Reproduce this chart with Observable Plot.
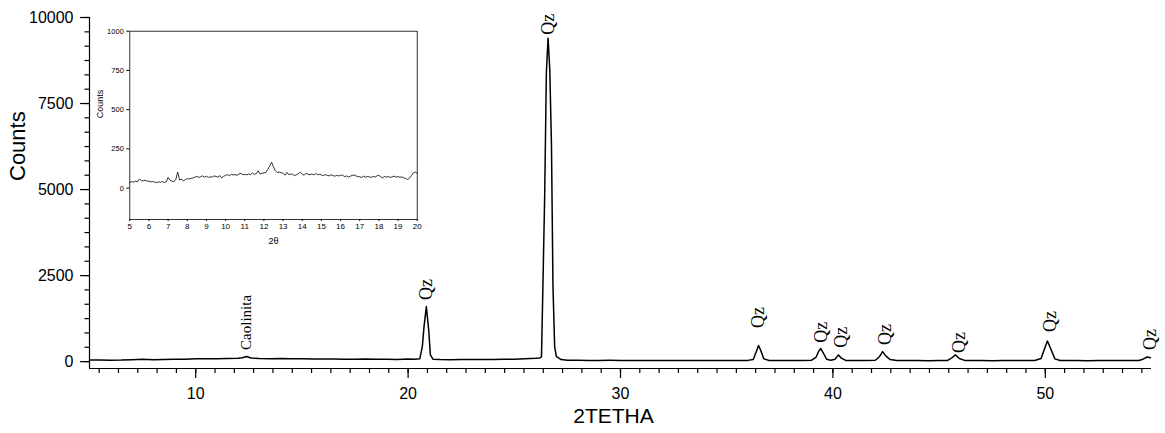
<!DOCTYPE html>
<html><head><meta charset="utf-8">
<script src="https://cdn.jsdelivr.net/npm/d3@7"></script>
<script src="https://cdn.jsdelivr.net/npm/@observablehq/plot@0.6"></script>
<style>
body{margin:0;background:#fff;}
#wrap{position:relative;width:1165px;height:433px;overflow:hidden;background:#fff;}
#main{position:absolute;left:0;top:0;}
#inset{position:absolute;left:90px;top:20px;}
</style></head><body><div id="wrap"><div id="main"></div><div id="inset"></div></div>
<script>
// ---- main diffractogram (2θ, counts) ----
const twoTheta = [5.0,5.5,6.0,6.5,7.0,7.5,8.0,8.5,9.0,9.5,10.0,10.5,11.0,11.5,12.0,12.2,12.4,12.6,13.0,13.5,14.0,14.5,15.0,15.5,16.0,16.5,17.0,17.5,18.0,18.5,19.0,19.5,20.0,20.3,20.55,20.67,20.75,20.86,20.97,21.05,21.17,21.5,22.0,22.5,23.0,23.5,24.0,24.5,25.0,25.5,26.0,26.2,26.28,26.35,26.43,26.51,26.59,26.67,26.75,26.82,26.9,26.98,27.2,27.5,28.0,28.5,29.0,29.5,30.0,30.5,31.0,31.5,32.0,32.5,33.0,33.5,34.0,34.5,35.0,35.5,36.0,36.25,36.4,36.5,36.6,36.75,37.0,37.5,38.0,38.5,39.0,39.2,39.33,39.43,39.55,39.7,39.9,40.1,40.26,40.4,40.6,41.0,41.5,42.0,42.2,42.34,42.5,42.7,43.0,43.5,44.0,44.5,45.0,45.4,45.6,45.77,45.95,46.2,46.5,47.0,47.5,48.0,48.5,49.0,49.5,49.8,49.95,50.1,50.25,50.45,50.7,51.0,51.5,52.0,52.5,53.0,53.5,54.0,54.4,54.6,54.8,54.95];
const counts = [45,50,42,45,55,70,55,65,70,72,80,82,85,88,95,115,150,105,92,85,88,84,80,78,76,74,72,70,74,70,68,62,75,70,80,436,1016,1600,920,195,70,60,55,60,58,62,65,70,68,80,95,105,140,2300,4800,8400,9400,8500,6300,2200,430,150,60,40,38,36,35,38,35,34,36,33,35,32,34,33,35,32,34,33,36,60,300,470,330,80,35,33,34,32,40,120,300,380,250,70,40,70,195,100,35,32,34,40,150,290,160,60,32,30,35,28,32,35,110,195,90,35,30,33,28,32,30,34,32,90,350,600,380,80,35,30,32,28,33,30,34,31,35,70,135,110];

// ---- peak annotations ----
const peakNames = ["Caolinita","Qz","Qz","Qz","Qz","Qz","Qz","Qz","Qz","Qz"];
const peakTheta = [12.4,20.86,26.62,36.5,39.45,40.4,42.45,45.95,50.25,54.95];
const peakLabelCounts = [340,1790,9500,980,545,400,485,250,860,340];

// ---- axis ticks ----
const xMajorTicks = [10,20,30,40,50];
const yMajorTicks = [0,2500,5000,7500,10000];

// ---- inset (5–20° 2θ, 0.1° step) ----
const insetCounts = [
 36,42,38,45,40,58,48,46,50,44,
 45,40,42,38,35,40,37,42,36,40,
 68,50,45,40,55,102,52,58,45,55,
 60,58,62,65,70,75,68,72,78,70,
 75,68,72,70,78,74,70,80,65,75,
 82,85,80,88,84,86,82,90,95,85,
 88,84,90,86,96,88,92,110,90,95,
 98,100,118,140,165,135,110,100,102,98,
 95,82,100,85,90,88,80,85,92,102,
 90,82,95,88,85,90,84,92,86,88,
 84,80,86,82,78,85,80,76,82,78,
 80,85,72,78,70,76,80,84,78,74,
 72,68,76,70,74,72,68,75,70,78,
 82,72,66,75,70,74,68,72,76,70,
 74,68,72,65,62,55,64,80,98,102,
 95];
const insetXTicks = [5,6,7,8,9,10,11,12,13,14,15,16,17,18,19,20];
const insetYTicks = [0,250,500,750,1000];

const xDomain = [5,55], yDomain = [-200,10000];
const mainData = twoTheta.map((t,i)=>({t, c:counts[i]}));
const labels = peakNames.map((n,i)=>({n, t:peakTheta[i], c:peakLabelCounts[i]}));
const xMinorTicks = d3.range(-5,50).map(k => 10 + k*10/11);
const yMinorTicks = d3.range(0,25).map(k => k*2500/6);

const sans = "'Liberation Sans', Arial, sans-serif";
const serif = "'Liberation Serif', 'Times New Roman', serif";

const main = Plot.plot({
  width:1165, height:433,
  marginLeft:89, marginRight:14, marginTop:17, marginBottom:65,
  style:{fontFamily:sans, color:"#000", background:"#fff"},
  x:{domain:xDomain}, y:{domain:yDomain},
  marks:[
    Plot.axisY({ticks:yMinorTicks, tickSize:4.5, tickFormat:()=>"", label:null, strokeWidth:1.2}),
    Plot.axisY({ticks:yMajorTicks, tickSize:9, tickPadding:7, fontSize:16, tickFormat:d3.format("d"), label:null, strokeWidth:1.2}),
    Plot.axisX({ticks:xMinorTicks, tickSize:5, tickFormat:()=>"", label:null, strokeWidth:1.2}),
    Plot.axisX({ticks:xMajorTicks, tickSize:10, tickPadding:9, fontSize:16, label:null, strokeWidth:1.2}),
    Plot.ruleX([xDomain[0]], {stroke:"#000", strokeWidth:1.2}),
    Plot.ruleY([yDomain[0]], {stroke:"#000", strokeWidth:1.2}),
    Plot.line(mainData, {x:"t", y:"c", stroke:"#000", strokeWidth:1.5}),
    Plot.text(labels, {x:"t", y:"c", text:"n", rotate:-90, textAnchor:"start", fontFamily:serif,
      fontSize:d => d.n === "Qz" ? 18 : 15, fill:"#000"}),
    Plot.text(["Counts"], {frameAnchor:"left", dx:-72, dy:-12, rotate:-90, fontSize:22, fill:"#000"}),
    Plot.text(["2TETHA"], {frameAnchor:"bottom", dx:-7, dy:54, fontSize:21, fill:"#000"})
  ]
});
document.getElementById("main").appendChild(main);

const insetData = insetCounts.map((c,i)=>({t: 5 + i*0.1, c}));
const inset = Plot.plot({
  width:340, height:240,
  marginLeft:39.3, marginTop:10.7, marginRight:13.3, marginBottom:41,
  style:{fontFamily:sans, color:"#000", background:"transparent"},
  x:{domain:[5,20]}, y:{domain:[-200,1000]},
  marks:[
    Plot.frame({stroke:"#000", strokeWidth:0.8}),
    Plot.axisX({ticks:insetXTicks, tickSize:2, tickPadding:2, fontSize:8, label:null}),
    Plot.axisY({ticks:insetYTicks, tickSize:3, tickPadding:3, fontSize:7.5, tickFormat:d3.format("d"), label:null}),
    Plot.line(insetData, {x:"t", y:"c", stroke:"#000", strokeWidth:0.8}),
    Plot.text(["2θ"], {frameAnchor:"bottom", dy:24, fontSize:9, fill:"#000"}),
    Plot.text(["Counts"], {frameAnchor:"left", dx:-30, dy:-7, rotate:-90, fontSize:9, fill:"#000"})
  ]
});
document.getElementById("inset").appendChild(inset);
</script>
</body></html>
